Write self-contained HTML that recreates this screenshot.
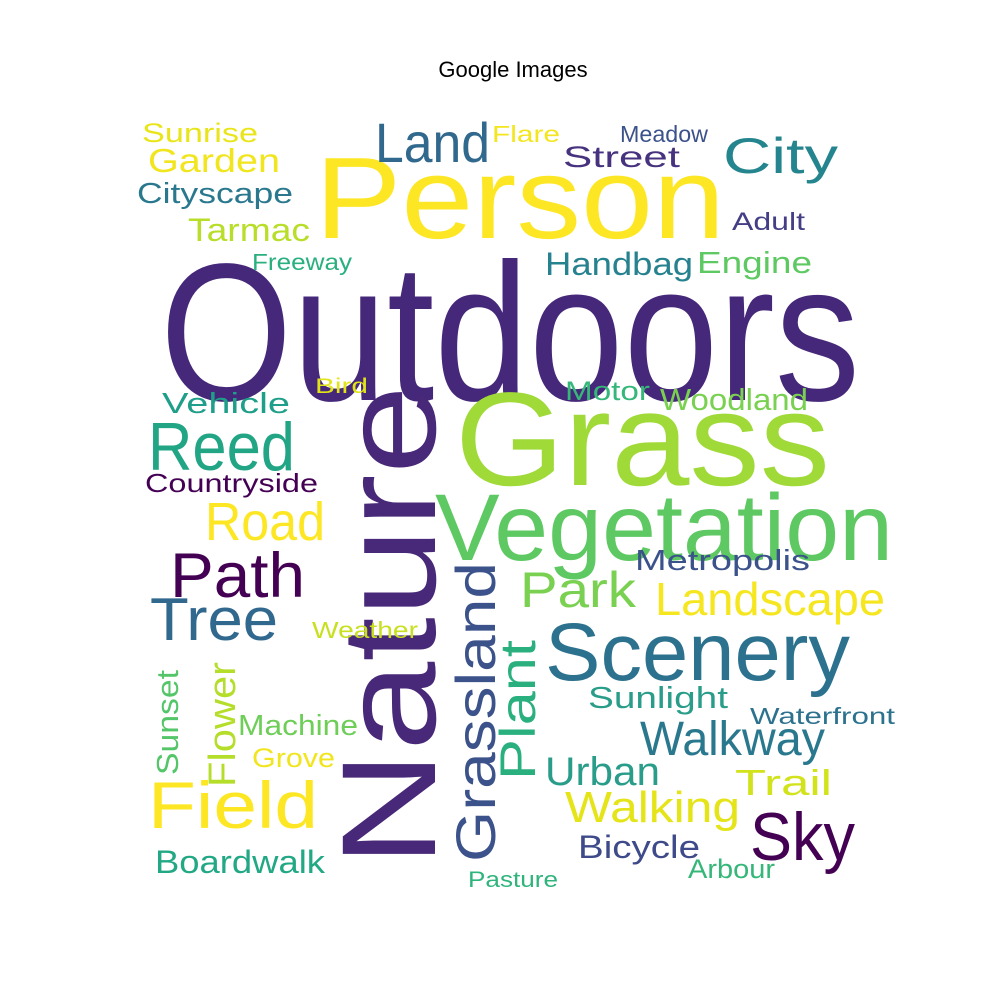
<!DOCTYPE html>
<html><head><meta charset="utf-8"><style>
html,body{margin:0;padding:0;background:#fff;}
svg{display:block;}
text{font-family:"Liberation Sans",sans-serif;}
</style></head><body>
<svg id="cloud" width="1000" height="1000" viewBox="0 0 1000 1000" xmlns="http://www.w3.org/2000/svg">
<rect width="1000" height="1000" fill="#fff"/>
<text x="513" y="77" text-anchor="middle" font-size="22" fill="#000">Google Images</text>
</svg>
<script>
// word cloud data
const words = ["Outdoors","Person","Nature","Grass","Vegetation","Grassland","Plant","Scenery","Reed","Road","Path","Tree","Field","Sky","Land","City","Park","Landscape","Walkway","Urban","Walking","Trail","Bicycle","Arbour","Pasture","Boardwalk","Grove","Machine","Flower","Sunset","Weather","Sunlight","Waterfront","Metropolis","Countryside","Vehicle","Bird","Motor","Woodland","Handbag","Engine","Freeway","Tarmac","Cityscape","Garden","Sunrise","Flare","Street","Meadow","Adult"];
const fontSizes = [196,116,134,133,95,56,50,82,68,54,63,60,66,68,56,50,50,46,48,40,44,36,32,27,22,32,27,29,38,31,23,31,23,29,26,29,21,27,31,32,31,23,32,29,33,27,23,30,23,25];
const colors = ["#46287a","#fde725","#482878","#a0da39","#5ec962","#3b528b","#2ab07f","#2c728e","#21a585","#fde725","#440154","#31688e","#fde725","#440154","#31688e","#25858e","#7ad151","#f6e620","#2a788e","#2a9d8a","#e5e419","#d2e21b","#3e4a89","#35b779","#2fb47c","#22a884","#f1e51d","#6ece58","#b5de2b","#54c568","#c8e020","#2a9d8a","#2c728e","#3b528b","#440154","#1f9e89","#e2e418","#35b779","#7ad151","#26828e","#5ec962","#2ab07f","#b8de29","#2a788e","#f1e51d","#e9e51a","#f4e61e","#46327e","#3b528b","#433e85"];
const rotations = [0,0,-90,0,0,-90,-90,0,0,0,0,0,0,0,0,0,0,0,0,0,0,0,0,0,0,0,0,0,-90,-90,0,0,0,0,0,0,0,0,0,0,0,0,0,0,0,0,0,0,0,0];
// layout: [x, y, length] (for rotated words x = baseline x, y = start y)
const layout = [[160,400,700],[315,238,410],[435,867,482],[455,485,375],[435,560,458],[495,862,300],[535,780,140],[545,680,305],[148,470,147],[205,540,120],[170,597,135],[150,640,128],[148,828,170],[750,860,105],[375,162,115],[723,173,115],[520,607,116],[655,615,230],[640,755,185],[545,785,115],[565,822,175],[735,795,97],[578,858,122],[688,878,87],[468,887,90],[155,873,170],[252,767,83],[238,735,120],[235,787,125],[178,775,105],[312,638,106],[588,708,140],[750,724,145],[635,570,175],[145,492,173],[162,413,128],[315,393,53],[565,400,85],[660,410,148],[545,275,148],[697,273,115],[252,270,100],[188,241,122],[137,203,156],[148,172,132],[142,142,116],[492,142,68],[563,167,117],[620,142,88],[732,230,73]];
const svg = document.getElementById('cloud');
const NS = 'http://www.w3.org/2000/svg';
words.forEach((w,i)=>{
  const t = document.createElementNS(NS,'text');
  const [x,y,len] = layout[i];
  if (rotations[i] !== 0) {
    t.setAttribute('transform','translate('+x+','+y+') rotate('+rotations[i]+')');
    t.setAttribute('x',0); t.setAttribute('y',0);
  } else {
    t.setAttribute('x',x); t.setAttribute('y',y);
  }
  t.setAttribute('font-size',fontSizes[i]);
  t.setAttribute('fill',colors[i]);
  t.setAttribute('textLength',len);
  t.setAttribute('lengthAdjust','spacingAndGlyphs');
  
  
  t.textContent = w;
  svg.appendChild(t);
});
</script>
</body></html>
